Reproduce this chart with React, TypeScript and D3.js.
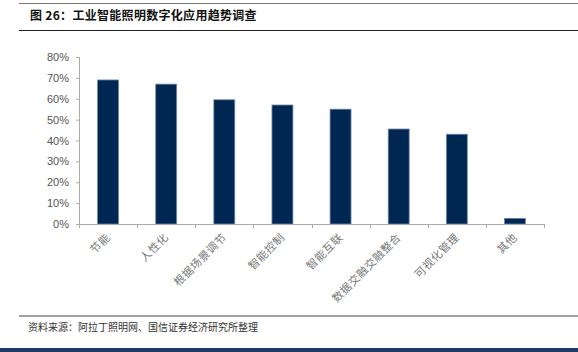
import React, { useRef, useEffect } from 'react';
import * as d3 from 'd3';

const categories = ['节能', '人性化', '根据场景调节', '智能控制', '智能互联', '数据交融交融整合', '可视化管理', '其他'];
const values = [0.69, 0.67, 0.595, 0.57, 0.55, 0.455, 0.43, 0.027];
const yTicks = [0, 0.1, 0.2, 0.3, 0.4, 0.5, 0.6, 0.7, 0.8];

const title = '图 26：工业智能照明数字化应用趋势调查';
const source = '资料来源：阿拉丁照明网、国信证券经济研究所整理';

const W = 578;
const H = 352;
const margin = { top: 57, right: 34, bottom: 128, left: 79 };

const App: React.FC = () => {
  const svgRef = useRef<SVGSVGElement>(null);

  useEffect(() => {
    const svg = d3.select(svgRef.current);
    svg.selectAll('*').remove();

    const innerWidth = W - margin.left - margin.right;
    const innerHeight = H - margin.top - margin.bottom;

    // Header / footer rules
    svg.append('line').attr('x1', 19).attr('x2', W).attr('y1', 3.5).attr('y2', 3.5)
      .attr('stroke', '#777').attr('stroke-width', 1);
    svg.append('text')
      .attr('x', 30).attr('y', 20)
      .attr('font-family', '"Noto Sans CJK SC", sans-serif')
      .attr('font-size', 12).attr('font-weight', 'bold').attr('fill', '#111')
      .attr('letter-spacing', 0.3)
      .text(title);
    svg.append('line').attr('x1', 19).attr('x2', W).attr('y1', 30.5).attr('y2', 30.5)
      .attr('stroke', '#222').attr('stroke-width', 1);

    svg.append('line').attr('x1', 19).attr('x2', W).attr('y1', 316).attr('y2', 316)
      .attr('stroke', '#444').attr('stroke-width', 1);
    svg.append('text')
      .attr('x', 28).attr('y', 331)
      .attr('font-family', '"Noto Sans CJK SC", sans-serif')
      .attr('font-size', 10).attr('fill', '#333')
      .text(source);
    svg.append('rect').attr('x', 0).attr('y', 348).attr('width', W).attr('height', 4)
      .attr('fill', '#1f3a64');

    const g = svg.append('g').attr('transform', `translate(${margin.left}, ${margin.top})`);

    const xScale = d3.scaleBand<string>().domain(categories).range([0, innerWidth]).paddingInner(0.64).paddingOuter(0.32);
    const yScale = d3.scaleLinear().domain([0, 0.8]).range([innerHeight, 0]);

    // Bars
    g.selectAll('.bar')
      .data(values)
      .enter()
      .append('rect')
      .attr('class', 'bar')
      .attr('x', (_, i) => xScale(categories[i]) as number)
      .attr('y', d => yScale(d))
      .attr('width', xScale.bandwidth())
      .attr('height', d => innerHeight - yScale(d))
      .attr('fill', '#002652')
      .attr('stroke', '#6d86a8')
      .attr('stroke-width', 0.8);

    // Y Axis
    const yAxis = g.append('g')
      .call(d3.axisLeft(yScale).tickValues(yTicks).tickFormat(d3.format('.0%')).tickSize(3).tickPadding(7));
    yAxis.selectAll('text')
      .style('fill', '#555')
      .style('font-family', '"Liberation Sans", Arial, sans-serif')
      .style('font-size', '11px');

    // X Axis with ticks at category boundaries
    const step = xScale.step();
    const xAxisG = g.append('g').attr('transform', `translate(0, ${innerHeight})`);
    xAxisG.append('line').attr('x1', 0).attr('x2', innerWidth).attr('y1', 0.5).attr('y2', 0.5)
      .attr('stroke', '#aaa');
    xAxisG.selectAll('.xtick')
      .data(d3.range(categories.length + 1))
      .enter()
      .append('line')
      .attr('class', 'xtick')
      .attr('x1', d => Math.round(d * step) + 0.5)
      .attr('x2', d => Math.round(d * step) + 0.5)
      .attr('y1', 0).attr('y2', 4)
      .attr('stroke', '#aaa');
    xAxisG.selectAll('.xlabel')
      .data(categories)
      .enter()
      .append('text')
      .attr('class', 'xlabel')
      .attr('transform', d => `translate(${(xScale(d) as number) + xScale.bandwidth() / 2 + 3}, ${14}) rotate(-45)`)
      .attr('text-anchor', 'end')
      .attr('font-family', '"Noto Sans CJK SC", sans-serif')
      .attr('font-size', 11)
      .attr('letter-spacing', 0.5)
      .attr('fill', '#777')
      .text(d => d);

    g.selectAll('.domain').attr('stroke', '#aaa');
    yAxis.selectAll('.tick line').attr('stroke', '#aaa');
  }, []);

  return (
    <svg
      ref={svgRef}
      width={W}
      height={H}
      style={{ position: 'absolute', left: 0, top: 0, background: '#fff', display: 'block' }}
    />
  );
};

export default App;
